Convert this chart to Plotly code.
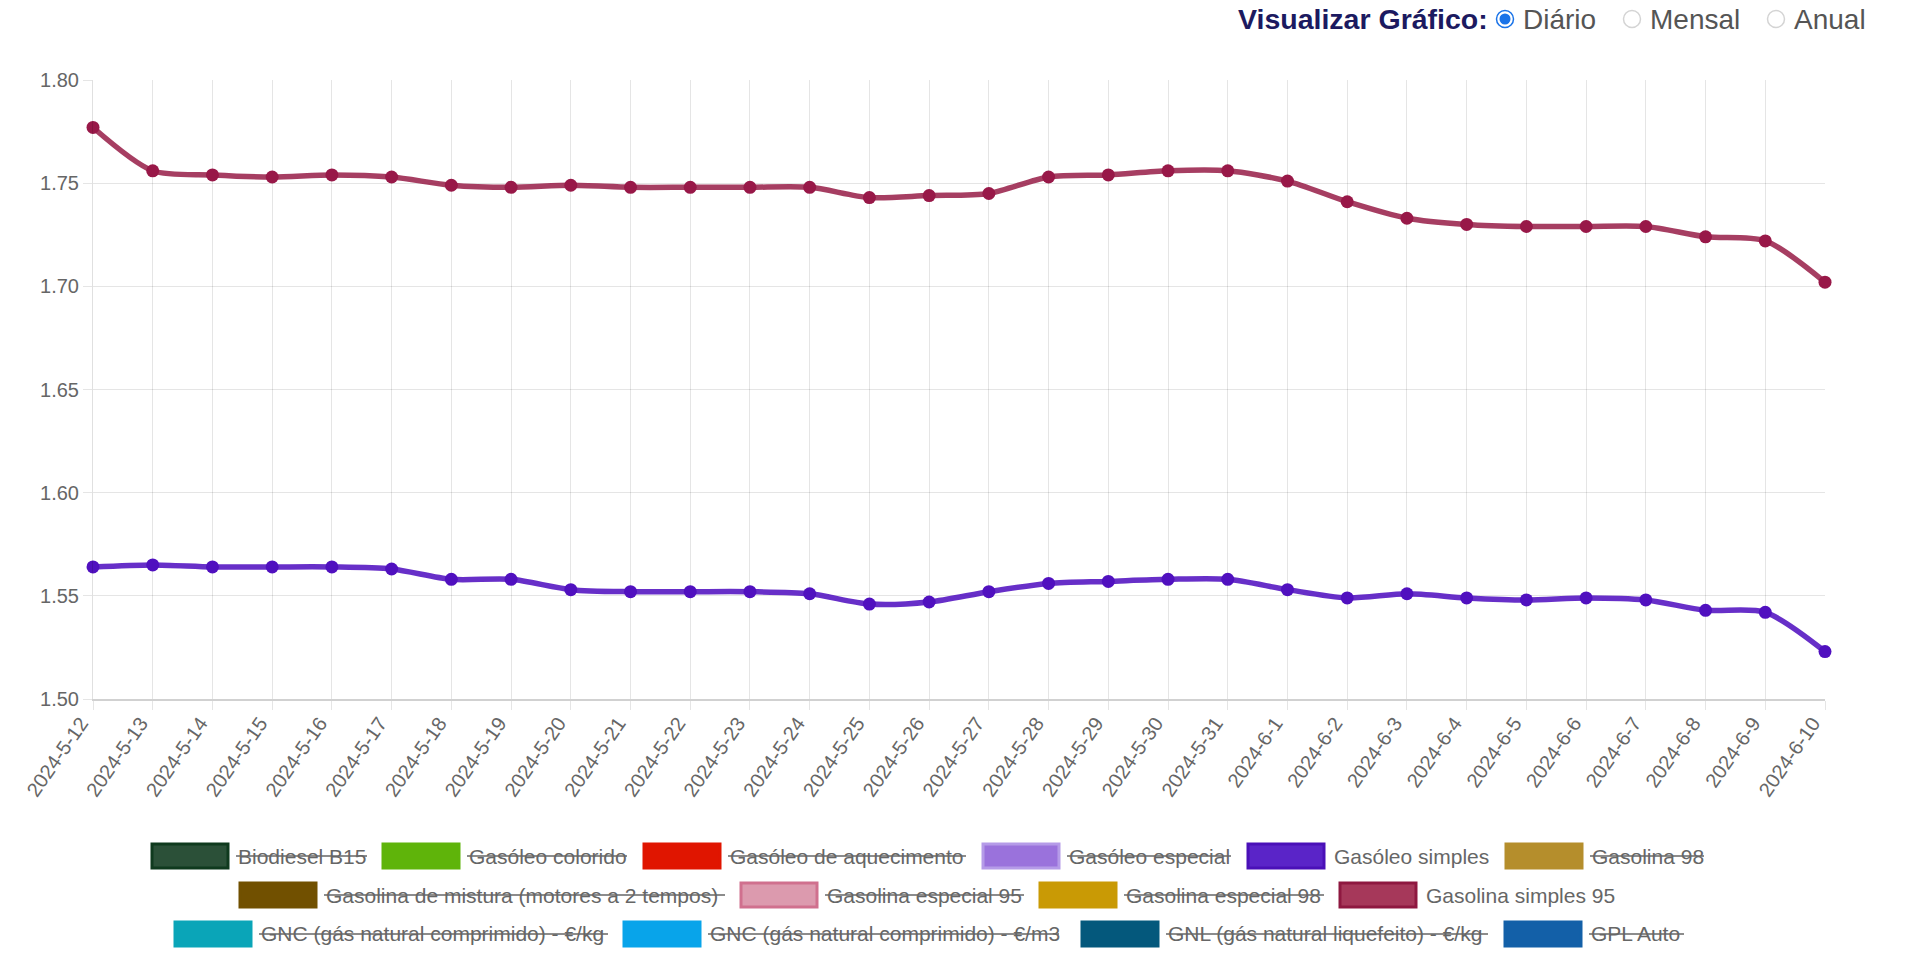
import plotly.graph_objects as go

# ---------------- data ----------------
dates = ["2024-5-12", "2024-5-13", "2024-5-14", "2024-5-15", "2024-5-16", "2024-5-17",
         "2024-5-18", "2024-5-19", "2024-5-20", "2024-5-21", "2024-5-22", "2024-5-23",
         "2024-5-24", "2024-5-25", "2024-5-26", "2024-5-27", "2024-5-28", "2024-5-29",
         "2024-5-30", "2024-5-31", "2024-6-1", "2024-6-2", "2024-6-3", "2024-6-4",
         "2024-6-5", "2024-6-6", "2024-6-7", "2024-6-8", "2024-6-9", "2024-6-10"]

gasolina_simples_95 = [1.777, 1.756, 1.754, 1.753, 1.754, 1.753, 1.749, 1.748, 1.749, 1.748,
                       1.748, 1.748, 1.748, 1.743, 1.744, 1.745, 1.753, 1.754, 1.756, 1.756,
                       1.751, 1.741, 1.733, 1.730, 1.729, 1.729, 1.729, 1.724, 1.722, 1.702]

gasoleo_simples = [1.564, 1.565, 1.564, 1.564, 1.564, 1.563, 1.558, 1.558, 1.553, 1.552,
                   1.552, 1.552, 1.551, 1.546, 1.547, 1.552, 1.556, 1.557, 1.558, 1.558,
                   1.553, 1.549, 1.551, 1.549, 1.548, 1.549, 1.548, 1.543, 1.542, 1.523]

y_ticks = [1.50, 1.55, 1.60, 1.65, 1.70, 1.75, 1.80]

legend_names = ["Biodiesel B15", "Gasóleo colorido", "Gasóleo de aquecimento", "Gasóleo especial",
                "Gasóleo simples", "Gasolina 98",
                "Gasolina de mistura (motores a 2 tempos)", "Gasolina especial 95",
                "Gasolina especial 98", "Gasolina simples 95",
                "GNC (gás natural comprimido) - €/kg", "GNC (gás natural comprimido) - €/m3",
                "GNL (gás natural liquefeito) - €/kg", "GPL Auto"]
legend_hidden = [True, True, True, True, False, True, True, True, True, False, True, True, True, True]

radio_labels = ["Diário", "Mensal", "Anual"]

# ---------------- styles / layout ----------------
legend_fill = ["#2b5038", "#5fb40a", "#e01500", "#9a72dc", "#5a24c8", "#b58e2c",
               "#715000", "#dc9aae", "#c99a05", "#a6385a", "#0aa5b8", "#08a4ea",
               "#04587c", "#1360a8"]
legend_border = ["#0f3a1e", "#5fb40a", "#e01500", "#b59be8", "#4a10b8", "#b58e2c",
                 "#715000", "#d0708e", "#c99a05", "#8e1840", "#0aa5b8", "#08a4ea",
                 "#04587c", "#1360a8"]
# (row center y px, box left px, text width px)
legend_pos = [(856, 152, 131), (856, 383, 160), (856, 644, 238), (856, 983, 164),
              (856, 1248, 159), (856, 1506, 114),
              (895, 240, 401), (895, 741, 199), (895, 1040, 200), (895, 1340, 198),
              (934, 175, 349), (934, 624, 351), (934, 1082, 322), (934, 1505, 95)]

W, H = 1920, 973
ML, MR, MT, MB = 93, 95, 80, 274
PW = W - ML - MR
PH = H - MT - MB


def px(x):
    return (x - ML) / PW


def py(y):
    return (H - MB - y) / PH


FONT = "Liberation Sans, Arial, Helvetica, sans-serif"
GRID = "rgba(0,0,0,0.1)"

fig = go.Figure()
fig.add_trace(go.Scatter(
    x=dates, y=gasoleo_simples, mode="lines+markers", name="Gasóleo simples",
    line=dict(color="rgba(82,18,192,0.88)", width=5.5, shape="spline", smoothing=0.8),
    marker=dict(color="#5010bf", size=13), cliponaxis=False))
fig.add_trace(go.Scatter(
    x=dates, y=gasolina_simples_95, mode="lines+markers", name="Gasolina simples 95",
    line=dict(color="rgba(150,28,70,0.85)", width=5.5, shape="spline", smoothing=0.8),
    marker=dict(color="#981848", size=13), cliponaxis=False))

shapes = []
annotations = []

# custom legend
for name, hidden, fill, border, (cy, bx, tw) in zip(legend_names, legend_hidden, legend_fill,
                                                   legend_border, legend_pos):
    bw, bh = 76, 24
    shapes.append(dict(type="rect", xref="paper", yref="paper",
                       x0=px(bx), x1=px(bx + bw), y0=py(cy + bh / 2), y1=py(cy - bh / 2),
                       fillcolor=fill, line=dict(color=border, width=3), layer="above"))
    tx = bx + bw + 8
    annotations.append(dict(xref="paper", yref="paper", x=px(tx), y=py(cy), xanchor="left",
                            yanchor="middle", showarrow=False, text=name,
                            font=dict(family=FONT, size=21, color="#666666")))
    if hidden:
        shapes.append(dict(type="line", xref="paper", yref="paper",
                           x0=px(tx), x1=px(tx + tw), y0=py(cy), y1=py(cy),
                           line=dict(color="#666666", width=1.5)))

# radio header
annotations.append(dict(xref="paper", yref="paper", x=px(1490), y=py(19), xanchor="right",
                        yanchor="middle", showarrow=False, text="<b>Visualizar Gráfico:</b>",
                        font=dict(family=FONT, size=28.5, color="#1c1a60")))
radio_cx = [1505, 1632, 1776]
for i, (lab, cx) in enumerate(zip(radio_labels, radio_cx)):
    r = 8.5
    cyr = 19
    sel = i == 0
    shapes.append(dict(type="circle", xref="paper", yref="paper",
                       x0=px(cx - r), x1=px(cx + r), y0=py(cyr + r), y1=py(cyr - r),
                       fillcolor="white",
                       line=dict(color="#1a73e8" if sel else "#d4d4d4", width=1.5)))
    if sel:
        ri = 5.5
        shapes.append(dict(type="circle", xref="paper", yref="paper",
                           x0=px(cx - ri), x1=px(cx + ri), y0=py(cyr + ri), y1=py(cyr - ri),
                           fillcolor="#1a73e8", line=dict(width=0)))
    annotations.append(dict(xref="paper", yref="paper", x=px(cx + 16), y=py(cyr),
                            xanchor="left", yanchor="middle", showarrow=False, text=lab,
                            font=dict(family=FONT, size=28, color="#555555")))

fig.update_layout(
    width=W, height=H, autosize=False,
    margin=dict(l=ML, r=MR, t=MT, b=MB, pad=0),
    paper_bgcolor="white", plot_bgcolor="white",
    showlegend=False,
    shapes=shapes, annotations=annotations,
    font=dict(family=FONT, color="#666666"),
    xaxis=dict(type="category", range=[0, len(dates) - 1], tickangle=-55,
               showgrid=True, gridcolor=GRID, gridwidth=1,
               ticks="outside", ticklen=9, tickcolor=GRID,
               ticklabelshift=-12, ticklabelstandoff=-6,
               showline=True, linecolor="rgba(0,0,0,0.18)", linewidth=1.5,
               tickfont=dict(family=FONT, size=20, color="#666666"), zeroline=False),
    yaxis=dict(range=[1.5, 1.8], tickvals=y_ticks, tickformat=".2f",
               showgrid=True, gridcolor=GRID, gridwidth=1,
               ticks="outside", ticklen=9, tickcolor=GRID,
               showline=True, linecolor="rgba(0,0,0,0.12)", linewidth=1,
               tickfont=dict(family=FONT, size=20, color="#666666"), zeroline=False),
)

fig.write_html("out.html", config={"displayModeBar": False},
               post_script="document.body.style.margin='0';document.body.style.overflow='hidden';")
